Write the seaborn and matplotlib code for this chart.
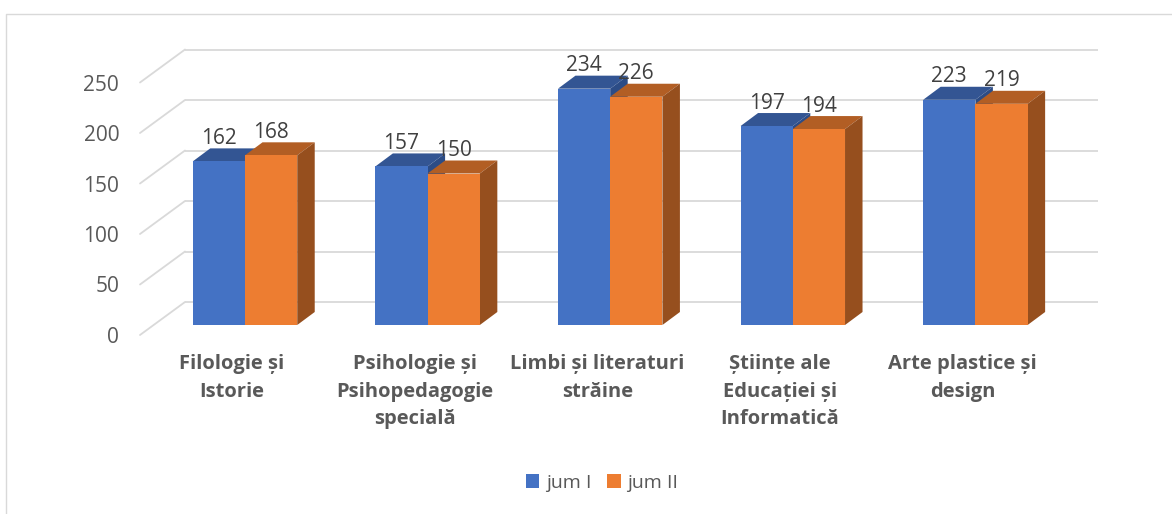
import matplotlib
matplotlib.use("Agg")
import matplotlib.pyplot as plt
import matplotlib.transforms as mtrans
from matplotlib.lines import Line2D
from matplotlib.patches import Polygon
import pandas as pd
import seaborn as sns

categories = ["Filologie și\nIstorie", "Psihologie și\nPsihopedagogie\nspecială",
              "Limbi și literaturi\nstrăine", "Științe ale\nEducației și\nInformatică",
              "Arte plastice și\ndesign"]
series_names = ["jum I", "jum II"]
jum_1 = [162, 157, 234, 197, 223]
jum_2 = [168, 150, 226, 194, 219]
y_ticks = [0, 50, 100, 150, 200, 250]

W, H = 1172, 514
FRONT = ["#4472C4", "#ED7D31"]
TOP = ["#335593", "#B25E24"]
SIDE = ["#2C4C86", "#964F1E"]
GRID = "#D9D9D9"
TXT = "#595959"
LBL = "#404040"

sns.set_theme(style="white")
plt.rcParams["font.family"] = ["Open Sans", "DejaVu Sans"]

fig = plt.figure(figsize=(W / 100, H / 100), dpi=100)
L, R, T, B = 140, 1098, 30, 335
ax = fig.add_axes([L / W, 1 - B / H, (R - L) / W, (B - T) / H])
fig.patch.set_facecolor("white")

PX_X = 182.6   # pixels per category
PX_Y = 1.01    # pixels per value
C0, BASE = 245, 325
ax.patch.set_alpha(0)

df = pd.DataFrame({
    "cat": categories * 2,
    "val": jum_1 + jum_2,
    "ser": [series_names[0]] * 5 + [series_names[1]] * 5,
})
sns.barplot(data=df, x="cat", y="val", hue="ser", order=categories,
            hue_order=series_names, palette=FRONT, width=0.572, gap=0,
            saturation=1, linewidth=0, ax=ax)
ax.set_xlim((L - C0) / PX_X, (R - C0) / PX_X)
ax.set_ylim((BASE - B) / PX_Y, (BASE - T) / PX_Y)
ax.set_xlabel("")
ax.set_ylabel("")

# 3-D depth of the bars
dx = 17.5 / PX_X
dy = 13 / PX_Y
# back wall and floor edge of the box, relative to the bar baseline
wall_y = (BASE - 302) / PX_Y
front_y = (BASE - B) / PX_Y
wall_x0 = (185 - C0) / PX_X
front_x0 = (L - C0) / PX_X
x_end = (R - C0) / PX_X
for v in y_ticks:
    ax.plot([wall_x0, x_end], [v + wall_y] * 2, color=GRID, lw=1.3, zorder=1,
            solid_capstyle="butt", clip_on=False)
    ax.plot([front_x0, wall_x0], [v + front_y, v + wall_y], color=GRID, lw=1.3,
            zorder=1, clip_on=False)

for s, cont in enumerate(ax.containers[:2]):
    base_z = 2 + 2 * s
    for rect in cont:
        x0, w, h = rect.get_x(), rect.get_width(), rect.get_height()
        x1 = x0 + w
        rect.set_zorder(base_z + 1)
        ax.add_patch(Polygon([(x0, h), (x1, h), (x1 + dx, h + dy), (x0 + dx, h + dy)],
                             closed=True, fc=TOP[s], ec="none", zorder=base_z))
        ax.add_patch(Polygon([(x1, 0), (x1 + dx, dy), (x1 + dx, h + dy), (x1, h)],
                             closed=True, fc=SIDE[s], ec="none", zorder=base_z))
    labels = ax.bar_label(cont, padding=9, fontsize=15, color=LBL, fmt="%d", zorder=10)
    for t in labels:
        t.set_zorder(10)

sns.despine(ax=ax, left=True, bottom=True, right=True, top=True)
ax.tick_params(axis="both", length=0)
ax.set_yticks(y_ticks)
ax.set_yticklabels([str(v) for v in y_ticks], fontsize=15, color=TXT)
ax.tick_params(axis="y", pad=15)
ax.set_xticks(range(len(categories)))
ax.set_xticklabels(categories, fontsize=14.5, color=TXT, fontweight="bold", linespacing=1.49)
ax.tick_params(axis="x", pad=14)

off_y = mtrans.ScaledTranslation(0, -10 / 100, fig.dpi_scale_trans)
for lab in ax.get_yticklabels():
    lab.set_transform(lab.get_transform() + off_y)
off_x = mtrans.ScaledTranslation(-13 / 100, 0, fig.dpi_scale_trans)
for lab in ax.get_xticklabels():
    lab.set_transform(lab.get_transform() + off_x)

handles, names = ax.get_legend_handles_labels()
ax.legend(handles[:2], names[:2], ncol=2, frameon=False, fontsize=14,
          labelcolor=TXT, loc="center", bbox_to_anchor=(602 / W, 1 - 483 / H),
          bbox_transform=fig.transFigure, handlelength=0.7, handleheight=0.7,
          handletextpad=0.35, columnspacing=0.8, borderpad=0)

# chart frame
fig.add_artist(Line2D([6 / W, 6 / W, 1], [0, 1 - 13.5 / H, 1 - 13.5 / H],
                      color=GRID, lw=1.0, transform=fig.transFigure))

fig.savefig("out.png", dpi=100)
